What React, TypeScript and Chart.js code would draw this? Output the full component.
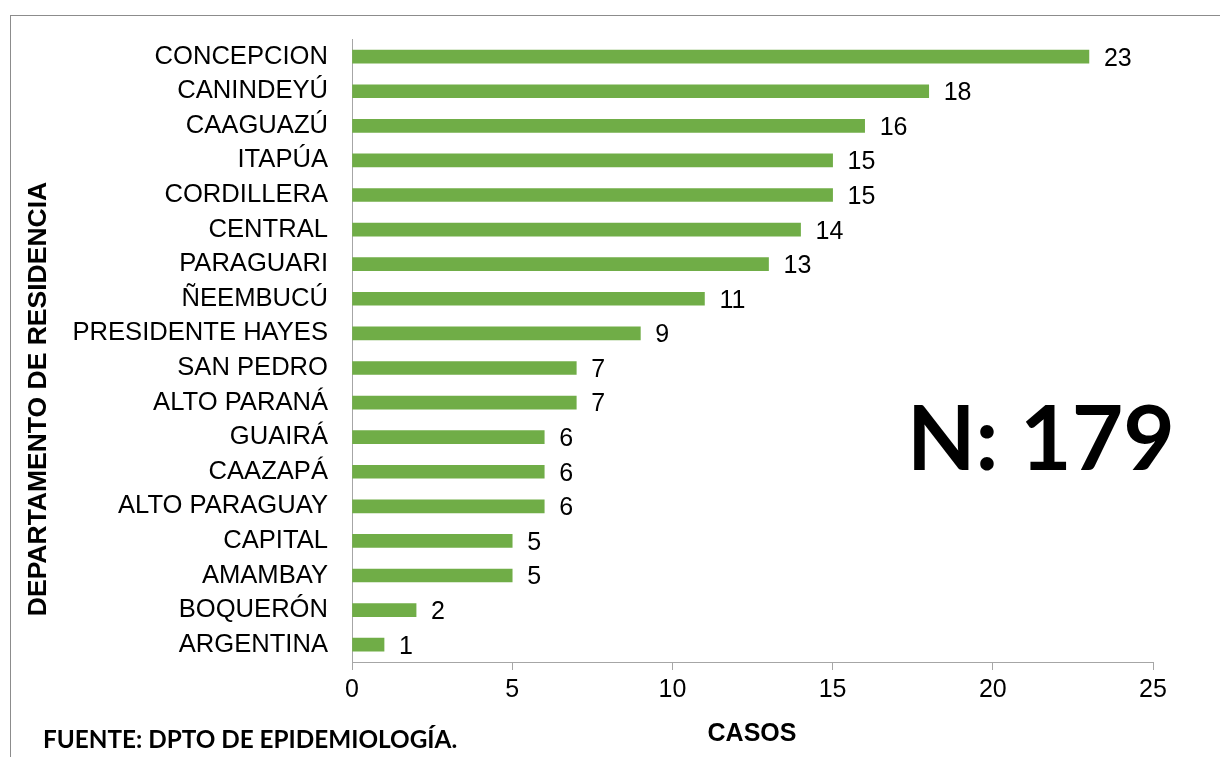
import React, { useEffect, useRef } from "react";
import { Chart, registerables } from "chart.js";

Chart.register(...registerables);

const categories = [
  "CONCEPCION", "CANINDEYÚ", "CAAGUAZÚ", "ITAPÚA", "CORDILLERA", "CENTRAL",
  "PARAGUARI", "ÑEEMBUCÚ", "PRESIDENTE HAYES", "SAN PEDRO", "ALTO PARANÁ",
  "GUAIRÁ", "CAAZAPÁ", "ALTO PARAGUAY", "CAPITAL", "AMAMBAY", "BOQUERÓN", "ARGENTINA",
];
const casos = [23, 18, 16, 15, 15, 14, 13, 11, 9, 7, 7, 6, 6, 6, 5, 5, 2, 1];
const xTicks = [0, 5, 10, 15, 20, 25];

const yTitle = "DEPARTAMENTO DE RESIDENCIA";
const xTitle = "CASOS";
const fuente = "FUENTE: DPTO DE EPIDEMIOLOGÍA.";
const total = "N: 179";

const SANS = "'Liberation Sans', Arial, sans-serif";

export default function App() {
  const ref = useRef<HTMLCanvasElement | null>(null);
  useEffect(() => {
    if (!ref.current) return;
    const overlay = {
      id: "overlay",
      afterDatasetsDraw(chart: any) {
        const ctx = chart.ctx;
        const meta = chart.getDatasetMeta(0);
        ctx.save();
        ctx.fillStyle = "#000";
        ctx.font = `25px ${SANS}`;
        ctx.textAlign = "left";
        ctx.textBaseline = "middle";
        meta.data.forEach((bar: any, i: number) => {
          ctx.fillText(String(casos[i]), bar.x + 15, bar.y + 2);
        });
        // y title
        ctx.save();
        ctx.translate(39, 399);
        ctx.rotate(-Math.PI / 2);
        ctx.font = `bold 26.5px ${SANS}`;
        ctx.textAlign = "center";
        ctx.textBaseline = "middle";
        ctx.fillText(yTitle, 0, 0);
        ctx.restore();
        // x title
        ctx.font = `bold 25px ${SANS}`;
        ctx.textAlign = "center";
        ctx.textBaseline = "middle";
        ctx.fillText(xTitle, 752, 734);
        // fuente
        ctx.font = `bold 24.3px Lato, 'Open Sans', sans-serif`;
        ctx.textAlign = "left";
        ctx.textBaseline = "alphabetic";
        ctx.fillText(fuente, 43, 748);
        // N
        ctx.font = `bold 89px Lato, 'Open Sans', sans-serif`;
        ctx.fillText(total, 907, 470);
        ctx.restore();
      },
    };
    const chart = new Chart(ref.current, {
      type: "bar",
      data: {
        labels: categories,
        datasets: [
          {
            data: casos,
            backgroundColor: "#70AD47",
            borderWidth: 0,
            barThickness: 13,
          },
        ],
      },
      options: {
        indexAxis: "y",
        animation: false,
        responsive: false,
        maintainAspectRatio: false,
        layout: { padding: { top: 38, right: 67, left: 0, bottom: 0 } },
        plugins: { legend: { display: false }, tooltip: { enabled: false }, title: { display: false } },
        scales: {
          x: {
            min: 0,
            max: 25,
            afterBuildTicks(scale: any) {
              scale.ticks = xTicks.map((v) => ({ value: v }));
            },
            afterFit(scale: any) {
              scale.height = 95;
            },
            grid: { drawOnChartArea: false, drawTicks: true, tickLength: 8, color: "#a6a6a6" },
            border: { display: true, color: "#a6a6a6", width: 1 },
            ticks: { color: "#000", font: { family: SANS, size: 25 }, padding: 5, maxRotation: 0 },
          },
          y: {
            afterFit(scale: any) {
              scale.width = 352;
            },
            grid: { display: false, drawTicks: false },
            border: { display: true, color: "#a6a6a6", width: 1 },
            ticks: { color: "#000", font: { family: SANS, size: 25.6 }, padding: 24, autoSkip: false },
          },
        },
      },
      plugins: [overlay],
    });
    return () => chart.destroy();
  }, []);
  return (
    <div style={{ position: "absolute", left: 0, top: 0, width: 1220, height: 757, background: "#fff", overflow: "hidden" }}>
      <div
        style={{
          position: "absolute",
          left: 10,
          top: 15,
          width: 1230,
          height: 760,
          borderLeft: "1px solid #8c8c8c",
          borderTop: "1px solid #8c8c8c",
        }}
      />
      <canvas ref={ref} width={1220} height={757} style={{ position: "absolute", left: 0, top: 0 }} />
    </div>
  );
}
